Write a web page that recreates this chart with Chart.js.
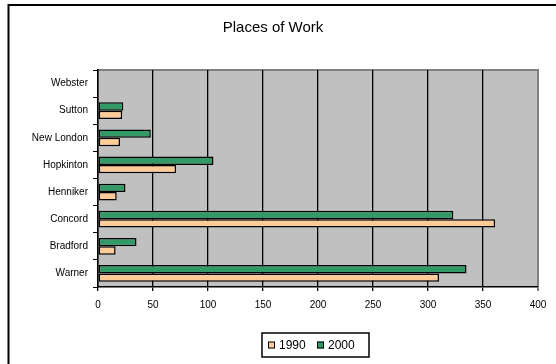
<!DOCTYPE html>
<html>
<head>
<meta charset="utf-8">
<script src="https://cdn.jsdelivr.net/npm/chart.js@4/dist/chart.umd.min.js"></script>
<style>
	html, body { margin: 0; padding: 0; background: #fff; }
	#wrap { width: 556px; height: 364px; }
</style>
</head>
<body>
<div id="wrap"><canvas id="chart" width="556" height="364"></canvas></div>
<script>
// towns listed bottom to top, the y axis is reversed below
const towns = ['Warner', 'Bradford', 'Concord', 'Henniker', 'Hopkinton', 'New London', 'Sutton', 'Webster'];
const years = ['1990', '2000'];
const workers1990 = [310, 16, 361, 17, 71, 20, 22, 0];
const workers2000 = [335, 35, 323, 25, 105, 48, 23, 0];
const xTicks = [0, 50, 100, 150, 200, 250, 300, 350, 400];

const FONT = '"Liberation Sans", Arial, sans-serif';
const colors = { '1990': '#FFCC99', '2000': '#339966' };

Chart.defaults.font.family = FONT;
Chart.defaults.color = '#000';

// grey plot area and the outer frame
const backdrop = {
	id: 'backdrop',
	beforeDraw(chart) {
		const { ctx, chartArea: a } = chart;
		ctx.save();
		ctx.fillStyle = '#fff';
		ctx.fillRect(0, 0, chart.width, chart.height);
		ctx.strokeStyle = '#000';
		ctx.lineWidth = 2;
		ctx.strokeRect(8.5, 5, 700, 500);
		ctx.fillStyle = '#C0C0C0';
		ctx.fillRect(a.left, a.top, a.right - a.left, a.bottom - a.top);
		ctx.strokeStyle = '#808080';
		ctx.lineWidth = 2;
		ctx.beginPath();
		ctx.moveTo(a.left, a.top);
		ctx.lineTo(a.right, a.top);
		ctx.lineTo(a.right, a.bottom);
		ctx.stroke();
		ctx.restore();
	},
};

// boxed legend under the axis, 1990 first
const boxLegend = {
	id: 'boxLegend',
	afterDraw(chart) {
		const { ctx } = chart;
		const x0 = 262, y0 = 333, w = 107, h = 24;
		ctx.save();
		ctx.strokeStyle = '#000';
		ctx.lineWidth = 1.5;
		ctx.strokeRect(x0, y0, w, h);
		ctx.font = '12px ' + FONT;
		ctx.textBaseline = 'middle';
		const cy = y0 + h / 2;
		const itemX = [268, 317];
		chart.data.datasets.slice().reverse().forEach((ds, i) => {
			const x = itemX[i];
			ctx.fillStyle = ds.backgroundColor;
			ctx.fillRect(x, cy - 3.5, 7, 7);
			ctx.lineWidth = 1;
			ctx.strokeRect(x + 0.5, cy - 3, 6, 6);
			ctx.fillStyle = '#000';
			ctx.fillText(ds.label, x + 11, cy + 0.5);
		});
		ctx.restore();
	},
};

new Chart(document.getElementById('chart'), {
	type: 'bar',
	data: {
		labels: towns,
		// 2000 goes first so it sits on top within each town
		datasets: [
			{ label: years[1], data: workers2000, backgroundColor: colors[years[1]] },
			{ label: years[0], data: workers1990, backgroundColor: colors[years[0]] },
		].map((d) => ({
			...d,
			borderColor: '#000',
			borderWidth: 1.5,
			borderSkipped: false,
			categoryPercentage: 0.62,
			barPercentage: 1,
		})),
	},
	options: {
		indexAxis: 'y',
		responsive: false,
		animation: false,
		layout: { padding: { left: 8, right: 18, top: 0, bottom: 47 } },
		plugins: {
			legend: { display: false },
			tooltip: { enabled: false },
			title: {
				display: true,
				text: 'Places of Work',
				font: { size: 15, weight: 'normal' },
				color: '#000',
				padding: { top: 19, bottom: 33 },
			},
		},
		scales: {
			x: {
				min: 0,
				max: 400,
				afterBuildTicks(axis) {
					axis.ticks = xTicks.map((v) => ({ value: v }));
				},
				afterFit(axis) {
					axis.height = 30;
				},
				grid: {
					color: (c) => (c.tick && c.tick.value === 400 ? '#808080' : '#000'),
					lineWidth: (c) => (c.tick && c.tick.value === 400 ? 2 : 1.3),
					tickLength: 4,
				},
				border: { color: '#000', width: 1.5 },
				ticks: { font: { size: 10 }, padding: 8, maxRotation: 0 },
			},
			y: {
				reverse: true,
				afterFit(axis) {
					axis.width = 90;
				},
				grid: {
					drawOnChartArea: false,
					offset: true,
					color: '#000',
					tickLength: 5,
				},
				border: { color: '#000', width: 1.5 },
				ticks: { font: { size: 10 }, padding: 5 },
			},
		},
	},
	plugins: [backdrop, boxLegend],
});
</script>
</body>
</html>
